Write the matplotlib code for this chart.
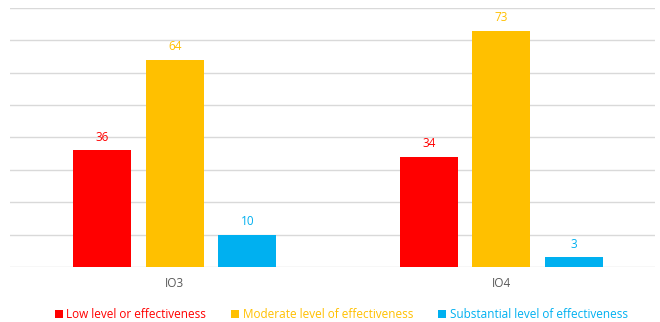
import numpy as np
import matplotlib.pyplot as plt

plt.rcParams['font.family'] = ['Open Sans', 'DejaVu Sans']

# Данные
categories = ["IO3", "IO4"]
series_names = ["Low level or effectiveness", "Moderate level of effectiveness",
                "Substantial level of effectiveness"]
low = [36, 34]
moderate = [64, 73]
substantial = [10, 3]
colors = ["#FF0000", "#FFC000", "#00B0F0"]

fig = plt.figure(figsize=(6.6, 3.22), dpi=100)
ax = fig.add_axes([0.015, 0.171, 0.977, 0.804])

x = np.arange(len(categories))
width = 0.177
step = 0.222
for i, (vals, name, c) in enumerate(zip([low, moderate, substantial], series_names, colors)):
    bars = ax.bar(x + (i - 1) * step, vals, width, color=c, label=name, zorder=3)
    for b, v in zip(bars, vals):
        ax.text(b.get_x() + b.get_width() / 2, v + 2.0, str(v), ha='center', va='bottom',
                color=c, fontsize=8.5)

ax.set_ylim(0, 80)
ax.set_xlim(-0.505, 1.47)
ax.set_yticks(np.arange(0, 81, 10))
ax.yaxis.grid(True, color='#D9D9D9', linewidth=1, zorder=0)
ax.tick_params(left=False, labelleft=False, bottom=False)
ax.set_xticks(x)
ax.set_xticklabels(categories, color='#595959', fontsize=8.5)
for s in ax.spines.values():
    s.set_visible(False)

fig.legend(loc='lower center', bbox_to_anchor=(0.517, -0.03), ncol=3, frameon=False,
           fontsize=8.5, handlelength=0.7, handleheight=0.7, handletextpad=0.3,
           columnspacing=2.1, labelcolor=colors)

fig.savefig("out.png", dpi=100)
